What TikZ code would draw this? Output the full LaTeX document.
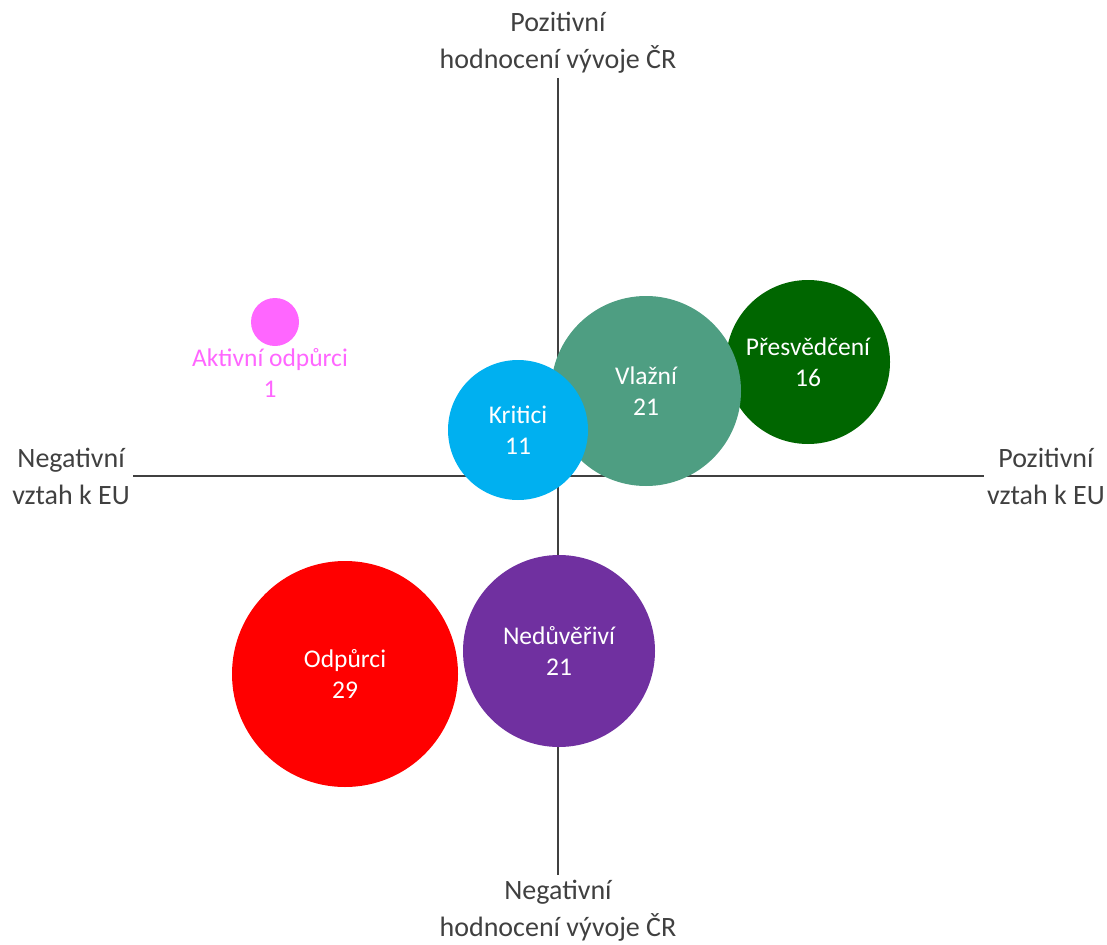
\documentclass[tikz,border=0pt]{standalone}
\usepackage{fontspec}
\setmainfont{Carlito}
\usetikzlibrary{positioning}
\definecolor{axisgray}{HTML}{404040}
\definecolor{pinkbub}{HTML}{FF66FF}
\definecolor{cyanbub}{HTML}{00B0F0}
\definecolor{tealbub}{HTML}{4E9E82}
\definecolor{greenbub}{HTML}{006600}
\definecolor{redbub}{HTML}{FF0000}
\definecolor{purplebub}{HTML}{7030A0}
\tikzset{
  bubble/.style    = {circle,inner sep=0pt,text=white,align=center,
                      font=\fontsize{25.5}{31}\selectfont},
  axisline/.style  = {draw=axisgray,line width=2pt},
  axislabel/.style = {inner sep=3pt,text=axisgray,align=center,
                      font=\fontsize{28}{37}\selectfont}
}
\newcommand{\DrawBubble}[5]{%
  % filled circle of the group, with its name and count inside
  \node[bubble,fill=#4,minimum size=#3] (#1) at #2 {#5};
}

\begin{document}
\begin{tikzpicture}[x=1pt,y=-1pt]
    \useasboundingbox (0,0) rectangle (1107,944);

    % axes
    \coordinate (top)    at (558,78);
    \coordinate (bottom) at (558,875);
    \coordinate (left)   at (133,476);
    \coordinate (right)  at (984,476);
    \draw[axisline] (top) -- (bottom);
    \draw[axisline] (left) -- (right);

    \node[axislabel,anchor=south,yshift=1pt] (toplab) at (top)
      {Pozitivní\\hodnocení vývoje ČR};
    \node[axislabel,anchor=north,yshift=-2pt] (botlab) at (bottom)
      {Negativní\\hodnocení vývoje ČR};
    \node[axislabel,anchor=east] (leftlab) at (left)
      {Negativní\\vztah k EU};
    \node[axislabel,anchor=west] (rightlab) at (right)
      {Pozitivní\\vztah k EU};

    % groups
    \DrawBubble{aktivni}{(275,322)}{48pt}{pinkbub}{}
    \node[below=0pt of aktivni,xshift=-5pt,text=pinkbub,align=center,
      inner sep=2pt,font=\fontsize{25.5}{31}\selectfont] (aktivnilab)
      {Aktivní odpůrci\\1};

    \DrawBubble{presvedceni}{(808,362)}{164pt}{greenbub}
    {Přesvědčení\\16}
    \DrawBubble{vlazni}{(646,391)}{190pt}{tealbub}{Vlažní\\21}
    \DrawBubble{kritici}{(518,430)}{140pt}{cyanbub}{Kritici\\11}
    \DrawBubble{odpurci}{(345,674)}{226pt}{redbub}{Odpůrci\\29}
    \DrawBubble{neduverivi}{(559,651)}{192pt}{purplebub}
    {Nedůvěřiví\\21}
\end{tikzpicture}
\end{document}
